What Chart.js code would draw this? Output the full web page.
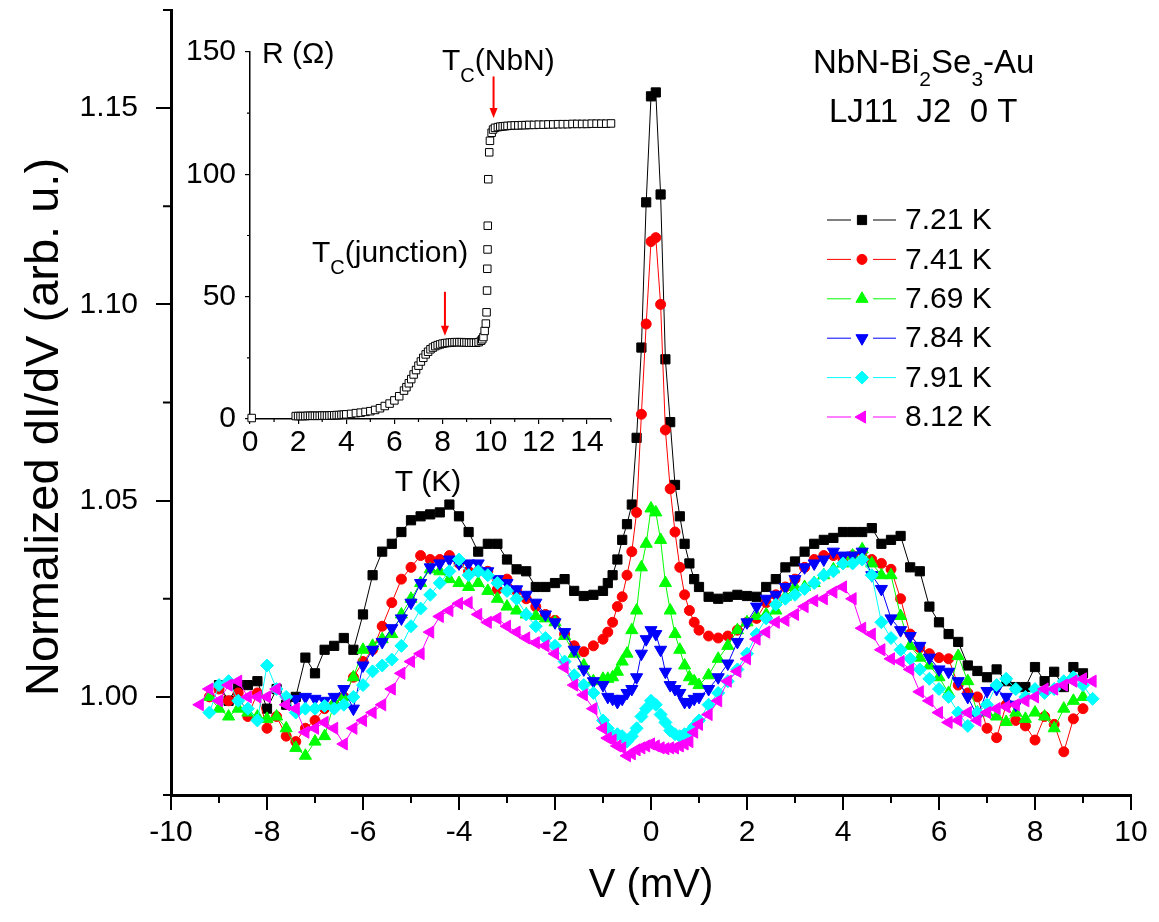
<!DOCTYPE html>
<html lang="en">
<head>
  <meta charset="UTF-8" />
  <title>NbN-Bi2Se3-Au dI/dV vs V</title>
  <script src="https://cdn.jsdelivr.net/npm/chart.js"></script>
  <style>
    html, body { margin: 0; padding: 0; background: #fff; }
    #wrap { position: relative; width: 1159px; height: 922px; }
    #mainChart { position: absolute; left: 0; top: 0; }
    #insetChart { position: absolute; left: 170px; top: 20px; }
  </style>
</head>
<body>
  <div id="wrap">
    <canvas id="mainChart" width="1159" height="922"></canvas>
    <canvas id="insetChart" width="460" height="480"></canvas>
  </div>

  <script>
    // bias voltage (mV), shared by all curves
    const V = [
      -9.4,-9.2,-9.0,-8.8,-8.6,-8.4,-8.2,-8.0,-7.8,-7.6,
      -7.4,-7.2,-7.0,-6.8,-6.6,-6.4,-6.2,-6.0,-5.8,-5.6,
      -5.4,-5.2,-5.0,-4.8,-4.6,-4.4,-4.2,-4.0,-3.8,-3.6,
      -3.4,-3.2,-3.0,-2.8,-2.6,-2.4,-2.2,-2.0,-1.8,-1.6,
      -1.4,-1.2,-1.0,
      -0.9,-0.8,-0.7,-0.6,-0.5,-0.4,-0.3,-0.2,-0.1,0.0,0.1,0.2,0.3,0.4,0.5,0.6,0.7,0.8,0.9,
      1.0,1.2,1.4,1.6,1.8,2.0,2.2,2.4,2.6,2.8,
      3.0,3.2,3.4,3.6,3.8,4.0,4.2,4.4,4.6,4.8,
      5.0,5.2,5.4,5.6,5.8,6.0,6.2,6.4,6.6,6.8,
      7.0,7.2,7.4,7.6,7.8,8.0,8.2,8.4,8.6,8.8,
      9.0,9.2
    ];

    const K721 = [
      null,null,1.003,0.999,1.003,1.003,1.004,0.997,1.002,0.998,
      1.000,1.010,1.006,1.012,1.013,1.015,1.012,1.021,1.031,1.037,
      1.039,1.042,1.045,1.046,1.0465,1.047,1.049,1.046,1.042,1.037,
      1.039,1.039,1.035,1.0325,1.032,1.028,1.028,1.029,1.030,1.027,
      1.0257,1.026,1.027,
      1.029,1.031,1.035,1.040,1.044,1.049,1.066,1.089,1.126,1.153,1.154,1.128,1.086,1.070,1.054,1.046,1.039,1.034,1.030,
      1.028,1.0255,1.025,1.0255,1.026,1.0257,1.0255,1.028,1.030,1.033,
      1.0345,1.037,1.039,1.040,1.0405,1.042,1.042,1.042,1.043,1.039,
      1.040,1.041,1.033,1.032,1.023,1.019,1.016,1.014,1.008,1.0066,
      1.005,1.007,1.004,1.0025,1.0025,1.0076,1.004,1.0064,1.0025,1.0076,
      1.006,null
    ];

    const K741 = [
      null,1.000,1.002,0.999,1.001,0.995,1.001,0.992,0.995,0.990,
      0.9886,0.992,0.994,0.997,0.998,1.000,1.005,1.009,1.012,1.018,
      1.024,1.030,1.033,1.036,1.035,1.035,1.036,1.034,1.032,1.032,
      1.032,1.0274,1.030,1.027,1.025,1.023,1.021,1.0195,1.016,1.013,
      1.0115,1.013,1.0147,
      1.0165,1.019,1.023,1.0255,1.031,1.037,1.047,1.072,1.095,1.116,1.117,1.100,1.068,1.053,1.042,1.033,1.026,1.022,1.019,
      1.017,1.0155,1.015,1.0155,1.017,1.019,1.020,1.024,1.026,1.028,
      1.030,1.033,1.035,1.036,1.036,1.035,1.036,1.037,1.035,1.034,
      1.0325,1.025,1.016,1.0125,1.011,1.010,1.0097,1.003,1.001,1.000,
      0.992,0.9896,0.998,0.994,0.9926,0.989,0.995,0.993,0.986,0.9944,
      0.997,null
    ];

    const K769 = [
      null,1.000,0.997,0.995,0.997,0.996,0.995,0.9944,0.995,0.992,
      0.987,0.985,0.9886,0.990,0.9985,1.000,1.005,1.012,1.013,1.0147,
      1.016,1.021,1.025,1.029,1.0325,1.032,1.030,1.029,1.028,1.029,
      1.027,1.025,1.023,1.022,1.021,1.0206,1.020,1.019,1.0155,1.011,
      1.008,1.004,1.0046,
      1.0046,1.005,1.0064,1.009,1.011,1.017,1.022,1.033,1.039,1.048,1.047,1.040,1.029,1.022,1.016,1.012,1.008,1.005,1.004,
      1.003,1.0055,1.0097,1.013,1.017,1.019,1.0206,1.021,1.022,1.0255,
      1.028,1.028,1.029,1.031,1.0325,1.034,1.036,1.0376,1.034,1.031,
      1.031,1.0206,1.013,1.010,1.008,1.005,1.001,1.0104,1.004,0.996,
      0.996,0.995,0.9936,0.996,0.9944,0.996,0.995,0.992,0.997,0.999,
      1.000,null
    ];

    const K784 = [
      null,null,null,null,null,null,null,null,null,null,
      0.9995,1.000,0.9995,0.999,1.000,1.002,0.997,1.008,1.012,1.014,
      1.0175,1.020,1.024,1.029,1.033,1.034,1.035,1.034,1.034,1.034,
      1.032,1.030,1.029,1.0274,1.026,1.024,1.021,1.019,1.0165,1.012,
      1.007,1.004,1.003,
      1.000,0.9995,0.9987,0.9995,1.001,1.002,1.005,1.011,1.0147,1.017,1.016,1.012,1.0064,1.003,1.002,1.001,0.9987,0.9987,0.9995,
      1.000,1.002,1.005,1.0085,1.014,1.019,1.023,1.025,1.026,1.028,
      1.030,1.033,1.034,1.035,1.037,1.036,1.036,1.037,1.031,1.0275,
      1.020,1.017,1.0155,1.013,1.010,1.007,1.0064,1.004,1.000,0.995,
      1.0015,1.002,1.000,0.998,null,null,null,null,null,null,
      null,null
    ];

    const K791 = [
      null,0.996,1.003,1.004,0.999,0.997,0.994,1.008,1.002,1.000,
      0.996,0.997,0.997,0.9977,0.997,0.998,1.000,1.003,1.0065,1.008,
      1.0095,1.013,1.018,1.0225,1.026,1.029,1.032,1.035,1.031,1.032,
      1.031,1.029,1.027,1.025,1.021,1.018,1.015,1.013,1.009,1.0055,
      1.003,1.001,0.994,
      0.992,0.990,0.9905,0.990,0.9886,0.990,0.992,0.995,0.997,0.999,0.998,0.9955,0.9935,0.9914,0.9905,0.990,0.9905,0.991,0.9925,
      0.994,0.998,1.001,1.004,1.007,1.011,1.016,1.020,1.0235,1.025,
      1.026,1.0275,1.029,1.031,1.032,1.034,1.034,1.035,1.031,1.019,
      1.015,1.012,1.0097,1.007,1.0046,1.002,1.000,0.996,0.9926,0.996,
      0.998,1.003,1.0046,1.002,1.000,1.002,1.001,1.002,1.004,1.005,
      1.003,0.9995
    ];

    const K812 = [
      0.998,1.002,0.999,1.003,1.004,1.000,1.000,1.000,1.002,0.998,
      0.997,0.991,0.992,0.9935,0.992,0.988,0.992,0.994,0.996,0.998,
      1.002,1.006,1.009,1.011,1.0165,1.0205,1.022,1.0238,1.024,1.021,
      1.019,1.020,1.018,1.0165,1.015,1.0138,1.013,1.011,1.0075,1.003,
      1.0005,0.997,0.992,
      0.9895,0.989,0.9875,0.987,0.985,0.9855,0.9865,0.987,0.9875,0.988,0.9875,0.987,0.9868,0.987,0.987,0.9875,0.988,0.9886,0.991,
      0.993,0.9955,0.999,1.004,1.0065,1.0097,1.0147,1.0165,1.019,1.0195,
      1.021,1.023,1.0245,1.025,1.0267,1.028,1.025,1.0175,1.016,1.012,
      1.0097,1.009,1.007,1.0013,0.999,0.996,0.9935,0.994,0.996,0.994,
      0.996,0.997,0.9975,0.998,0.999,1.000,1.002,1.002,1.003,1.004,
      1.0046,1.004
    ];

    const LABELS = ['7.21 K', '7.41 K', '7.69 K', '7.84 K', '7.91 K', '8.12 K'];

    const X_TICKS = [-10, -8, -6, -4, -2, 0, 2, 4, 6, 8, 10];
    const X_MINOR = [-9, -7, -5, -3, -1, 1, 3, 5, 7, 9];
    const Y_TICKS = [1.00, 1.05, 1.10, 1.15];
    const Y_MINOR = [0.975, 1.025, 1.075, 1.125, 1.175];

    // inset: R(T)
    const T_K = [
      0.07,
      1.9, 2.0, 2.1, 2.2, 2.3, 2.4, 2.5, 2.6, 2.7, 2.8, 2.9, 3.0, 3.1, 3.2, 3.3, 3.4, 3.5, 3.6, 3.7, 3.8, 3.9,
      4.0, 4.2, 4.4, 4.6, 4.8, 5.0, 5.2, 5.4, 5.6, 5.8, 6.0, 6.2, 6.4,
      6.5, 6.6, 6.7, 6.8, 6.9, 7.0, 7.1, 7.2, 7.3, 7.4, 7.5, 7.6, 7.7, 7.8, 7.9, 8.0,
      8.1, 8.2, 8.3, 8.4, 8.5, 8.6, 8.7, 8.8, 8.9, 9.0, 9.1, 9.2, 9.3, 9.4, 9.5, 9.6, 9.65, 9.7, 9.75,
      9.8, 9.83, 9.85, 9.86, 9.87, 9.88, 9.9, 9.94, 9.97, 10.04, 10.1, 10.18,
      10.3, 10.4, 10.5, 10.6, 10.7, 10.85, 11.0, 11.15, 11.3, 11.45, 11.6, 11.8, 12.0, 12.2, 12.4, 12.6,
      12.8, 13.0, 13.2, 13.4, 13.6, 13.8, 14.0, 14.2, 14.4, 14.6, 14.8, 15.0
    ];
    const R_OHM = [
      0.4,
      1.2, 1.2, 1.2, 1.2, 1.2, 1.3, 1.3, 1.3, 1.3, 1.3, 1.3, 1.4, 1.4, 1.4, 1.4, 1.5, 1.5, 1.6, 1.6, 1.7, 1.8,
      1.9, 2.1, 2.4, 2.6, 2.9, 3.2, 3.7, 4.4, 5.3, 6.3, 7.6, 9.3, 11.6,
      13.0, 14.6, 16.3, 18.2, 20.0, 21.8, 23.5, 25.0, 26.4, 27.5, 28.5, 29.2, 29.8, 30.2, 30.5, 30.8,
      31.0, 31.1, 31.2, 31.3, 31.4, 31.4, 31.4, 31.4, 31.3, 31.3, 31.2, 31.2, 31.2, 31.2, 31.4, 32.0, 32.6, 33.5, 36.0,
      39.0, 43.6, 52.5, 61.4, 69.3, 79.0, 98.0, 109.0, 113.7, 117.0, 118.3, 119.0,
      119.3, 119.5, 119.6, 119.7, 119.8, 119.9, 120.0, 120.0, 120.1, 120.1, 120.2, 120.2, 120.3, 120.3, 120.4, 120.4,
      120.5, 120.5, 120.5, 120.6, 120.6, 120.6, 120.6, 120.7, 120.7, 120.7, 120.7, 120.8
    ];
    const T_TICKS = [0, 2, 4, 6, 8, 10, 12, 14];
    const T_MINOR = [1, 3, 5, 7, 9, 11, 13, 15];
    const R_TICKS = [0, 50, 100, 150];
    const R_MINOR = [25, 75, 125];

    const FONT = '"Liberation Sans", Arial, sans-serif';
    Chart.defaults.font.family = FONT;
    Chart.defaults.color = '#000';

    const toPoints = (xs, ys) => xs.map((x, i) => ({ x: x, y: ys[i] }));

    // small outward minor ticks, drawn through the chart's own scales
    const minorTicks = {
      id: 'minorTicks',
      afterDraw(chart, args, opts) {
        const { ctx, chartArea } = chart;
        const xs = chart.scales.x, ys = chart.scales.y;
        ctx.save();
        ctx.strokeStyle = '#000';
        ctx.lineWidth = opts.width;
        ctx.beginPath();
        opts.x.forEach(v => {
          const px = xs.getPixelForValue(v);
          ctx.moveTo(px, chartArea.bottom);
          ctx.lineTo(px, chartArea.bottom + opts.len);
        });
        opts.y.forEach(v => {
          const py = ys.getPixelForValue(v);
          ctx.moveTo(chartArea.left, py);
          ctx.lineTo(chartArea.left - opts.len, py);
        });
        ctx.stroke();
        ctx.restore();
      }
    };

    function drawSubText(ctx, parts, x, y, size) {
      // parts: [text, isSub]
      let cx = x;
      parts.forEach(([t, sub]) => {
        ctx.font = (sub ? Math.round(size * 0.65) : size) + 'px ' + FONT;
        ctx.fillText(t, cx, sub ? y + size * 0.4 : y);
        cx += ctx.measureText(t).width;
      });
    }

    const mainText = {
      id: 'mainText',
      afterDraw(chart) {
        const ctx = chart.ctx;
        ctx.save();
        ctx.fillStyle = '#000';

        // axis titles
        ctx.textAlign = 'center';
        ctx.textBaseline = 'middle';
        ctx.font = '40px ' + FONT;
        ctx.fillText('V (mV)', 651, 886);
        ctx.save();
        ctx.translate(45, 427);
        ctx.rotate(-Math.PI / 2);
        ctx.font = '47px ' + FONT;
        ctx.fillText('Normalized dI/dV (arb. u.)', 0, 0);
        ctx.restore();

        // sample label
        ctx.textAlign = 'left';
        ctx.textBaseline = 'alphabetic';
        drawSubText(ctx, [['NbN-Bi', false], ['2', true], ['Se', false], ['3', true], ['-Au', false]], 813, 73, 33);
        ctx.font = '33px ' + FONT;
        ctx.fillText('LJ11  J2  0 T', 829, 122);

        // legend: line - marker - line, label
        chart.data.datasets.forEach((ds, i) => {
          const y = 220 + i * 39.4;
          ctx.strokeStyle = ds.borderColor;
          ctx.lineWidth = 1;
          ctx.beginPath();
          ctx.moveTo(827, y); ctx.lineTo(851, y);
          ctx.moveTo(873, y); ctx.lineTo(896, y);
          ctx.stroke();
          ctx.fillStyle = ds.pointBackgroundColor;
          ctx.strokeStyle = ds.pointBorderColor;
          Chart.helpers.drawPoint(ctx, {
            pointStyle: ds.pointStyle,
            rotation: ds.pointRotation || 0,
            radius: ds.pointRadius,
            borderWidth: 1
          }, 862, y);
          ctx.fillStyle = '#000';
          ctx.font = '30px ' + FONT;
          ctx.textBaseline = 'middle';
          ctx.fillText(ds.label, 905, y + 1);
        });
        ctx.restore();
      }
    };

    const SERIES = [
      { data: K721, color: '#000000', style: 'rect', rot: 0, r: 6.5 },
      { data: K741, color: '#ff0000', style: 'circle', rot: 0, r: 5 },
      { data: K769, color: '#00ff00', style: 'triangle', rot: 0, r: 7 },
      { data: K784, color: '#0000ff', style: 'triangle', rot: 180, r: 7 },
      { data: K791, color: '#00ffff', style: 'rectRot', rot: 0, r: 6.5 },
      { data: K812, color: '#ff00ff', style: 'triangle', rot: -90, r: 7 }
    ];

    new Chart(document.getElementById('mainChart'), {
      type: 'scatter',
      data: {
        datasets: SERIES.map((s, i) => ({
          label: LABELS[i],
          data: toPoints(V, s.data),
          showLine: true,
          borderColor: s.color,
          borderWidth: 1,
          pointStyle: s.style,
          pointRotation: s.rot,
          pointRadius: s.r,
          pointBackgroundColor: s.color,
          pointBorderColor: s.color,
          pointBorderWidth: 1,
          order: SERIES.length - i
        }))
      },
      options: {
        responsive: false,
        animation: false,
        events: [],
        layout: { padding: { top: 10, right: 28, left: 0, bottom: 0 } },
        plugins: {
          legend: { display: false },
          tooltip: { enabled: false },
          minorTicks: { x: X_MINOR, y: Y_MINOR, len: 8, width: 2 }
        },
        scales: {
          x: {
            type: 'linear',
            min: -10,
            max: 10,
            afterBuildTicks: s => { s.ticks = X_TICKS.map(v => ({ value: v })); },
            afterFit: s => { s.height = 127; s.paddingLeft = 0; s.paddingRight = 0; },
            ticks: { font: { size: 30 }, padding: 5, maxRotation: 0, callback: v => String(v) },
            grid: { display: true, drawOnChartArea: false, drawTicks: true, tickLength: 15, lineWidth: 2, color: '#000' },
            border: { display: true, width: 3, color: '#000' }
          },
          y: {
            type: 'linear',
            min: 0.975,
            max: 1.175,
            afterBuildTicks: s => { s.ticks = Y_TICKS.map(v => ({ value: v })); },
            afterFit: s => { s.width = 171; s.paddingTop = 0; s.paddingBottom = 0; },
            ticks: { font: { size: 30 }, padding: 18, callback: v => v.toFixed(2) },
            grid: { display: true, drawOnChartArea: false, drawTicks: true, tickLength: 15, lineWidth: 2, color: '#000' },
            border: { display: true, width: 3, color: '#000' }
          }
        }
      },
      plugins: [minorTicks, mainText]
    });

    // inset: labels and red arrows
    const insetText = {
      id: 'insetText',
      afterDraw(chart) {
        const ctx = chart.ctx;
        const xs = chart.scales.x, ys = chart.scales.y;
        ctx.save();
        ctx.fillStyle = '#000';
        ctx.textAlign = 'left';
        ctx.textBaseline = 'alphabetic';
        ctx.font = '30px ' + FONT;
        ctx.fillText('R (\u03A9)', 92, 43);
        ctx.textAlign = 'center';
        ctx.fillText('T (K)', 258, 471);
        ctx.textAlign = 'left';
        drawSubText(ctx, [['T', false], ['C', true], ['(NbN)', false]], 272, 50, 30);
        drawSubText(ctx, [['T', false], ['C', true], ['(junction)', false]], 142, 242, 30);

        const arrow = (t, rFrom, rTo) => {
          const x = xs.getPixelForValue(t);
          const y1 = ys.getPixelForValue(rFrom);
          const y2 = ys.getPixelForValue(rTo);
          ctx.strokeStyle = '#ff0000';
          ctx.fillStyle = '#ff0000';
          ctx.lineWidth = 2;
          ctx.beginPath();
          ctx.moveTo(x, y1);
          ctx.lineTo(x, y2 - 6);
          ctx.stroke();
          ctx.beginPath();
          ctx.moveTo(x - 4, y2 - 10);
          ctx.lineTo(x + 4, y2 - 10);
          ctx.lineTo(x, y2);
          ctx.closePath();
          ctx.fill();
        };
        arrow(8.1, 52, 34);
        arrow(10.12, 140, 123);
        ctx.restore();
      }
    };

    new Chart(document.getElementById('insetChart'), {
      type: 'scatter',
      data: {
        datasets: [{
          data: toPoints(T_K, R_OHM),
          showLine: false,
          pointStyle: 'rect',
          pointRadius: 5.3,
          pointBackgroundColor: '#ffffff',
          pointBorderColor: '#000000',
          pointBorderWidth: 1,
          clip: false
        }]
      },
      options: {
        responsive: false,
        animation: false,
        events: [],
        layout: { padding: { top: 32, right: 19, left: 0, bottom: 0 } },
        plugins: {
          legend: { display: false },
          tooltip: { enabled: false },
          minorTicks: { x: T_MINOR, y: R_MINOR, len: 3, width: 1.2 }
        },
        scales: {
          x: {
            type: 'linear',
            min: 0,
            max: 15,
            afterBuildTicks: s => { s.ticks = T_TICKS.map(v => ({ value: v })); },
            afterFit: s => { s.height = 81; s.paddingLeft = 0; s.paddingRight = 0; },
            ticks: { font: { size: 30 }, padding: 1, maxRotation: 0, callback: v => String(v) },
            grid: { display: true, drawOnChartArea: false, drawTicks: true, tickLength: 5, lineWidth: 1.2, color: '#000' },
            border: { display: true, width: 1.5, color: '#000' }
          },
          y: {
            type: 'linear',
            min: 0,
            max: 150,
            afterBuildTicks: s => { s.ticks = R_TICKS.map(v => ({ value: v })); },
            afterFit: s => { s.width = 80; s.paddingTop = 0; s.paddingBottom = 0; },
            ticks: { font: { size: 30 }, padding: 9, callback: v => String(v) },
            grid: { display: true, drawOnChartArea: false, drawTicks: true, tickLength: 5, lineWidth: 1.2, color: '#000' },
            border: { display: true, width: 1.5, color: '#000' }
          }
        }
      },
      plugins: [minorTicks, insetText]
    });
  </script>
</body>
</html>
